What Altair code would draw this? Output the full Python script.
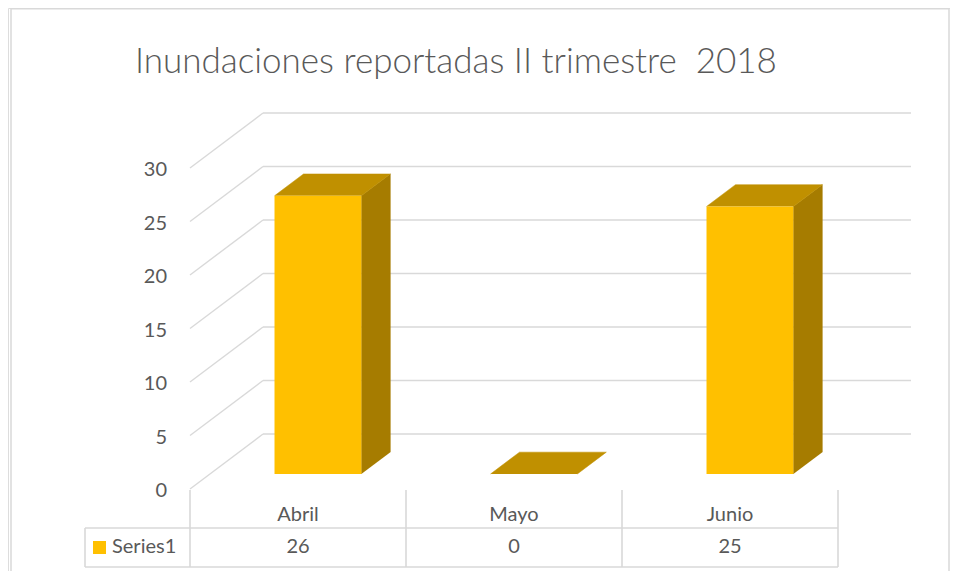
import altair as alt
import pandas as pd

# ---------------- data ----------------
months = ["Abril", "Mayo", "Junio"]
values = [26, 0, 25]
series_name = "Series1"
tick_values = [0, 5, 10, 15, 20, 25, 30]
title_text = "Inundaciones reportadas II trimestre \u00a02018"

# ---------------- geometry / style ----------------
W, H = 942, 563
PX_PER_CAT = 216.0      # pixels per category on the front plane
PX_PER_VAL = 10.7       # pixels per value unit
X0_PAGE, Y0_PAGE = 190.0, 489.0   # page pixel of (category 0, value 0, front)
DEPTH_X = 73 / PX_PER_CAT          # category units for full depth
DEPTH_Y = 55 / PX_PER_VAL          # value units for full depth
BAR_D0, BAR_D1 = 0.273, 0.67       # bar depth span (fraction of full depth)
BAR_HALF = 0.201                   # half bar width in category units

FRONT = "#FFC000"
TOP = "#C09000"
SIDE = "#A67C00"
GRID = "#D9D9D9"
TEXT = "#595959"
FONT = "Lato"

def page_to_u(px):
    return (px - X0_PAGE) / PX_PER_CAT

def page_to_v(py):
    return (Y0_PAGE - py) / PX_PER_VAL

xs = alt.Scale(domain=[page_to_u(8), page_to_u(8 + W)], nice=False, zero=False)
ys = alt.Scale(domain=[page_to_v(8 + H), page_to_v(8)], nice=False, zero=False)

def X(f):
    return alt.X(f, type="quantitative", scale=xs, axis=None)

def Y(f):
    return alt.Y(f, type="quantitative", scale=ys, axis=None)

# ---------------- gridlines (side wall diagonals + back wall) ----------------
diag = pd.DataFrame({
    "x": [0.0] * len(tick_values),
    "y": tick_values,
    "x2": [DEPTH_X] * len(tick_values),
    "y2": [t + DEPTH_Y for t in tick_values],
})
back = pd.DataFrame({
    "x": [DEPTH_X] * len(tick_values),
    "y": [t + DEPTH_Y for t in tick_values],
    "x2": [len(months) + DEPTH_X] * len(tick_values),
    "y2": [t + DEPTH_Y for t in tick_values],
})
grid_df = pd.concat([diag, back], ignore_index=True)
grid = alt.Chart(grid_df).mark_rule(color=GRID, strokeWidth=1.4).encode(
    x=X("x"), y=Y("y"), x2="x2", y2="y2")

# value-axis labels on the front plane
tick_df = pd.DataFrame({"y": tick_values, "label": [str(t) for t in tick_values],
                        "x": [page_to_u(167)] * len(tick_values)})
ticks = alt.Chart(tick_df).mark_text(font=FONT, fontSize=20, color=TEXT, align="right",
                                     dy=2).encode(x=X("x"), y=Y("y"), text="label:N")

# ---------------- bars (front rect + top / side polygons) ----------------
dx = (BAR_D1 - BAR_D0) * DEPTH_X
dyv = (BAR_D1 - BAR_D0) * DEPTH_Y
front_rows = []
poly_layers = []

def polygon(points, color):
    df = pd.DataFrame({"x": [p[0] for p in points], "y": [p[1] for p in points],
                       "k": list(range(len(points)))})
    return alt.Chart(df).mark_line(filled=True, color=color, strokeWidth=0.5,
                                   stroke=color).encode(x=X("x"), y=Y("y"), order="k:Q")

for i, (m, v) in enumerate(zip(months, values)):
    xl = i + 0.5 - BAR_HALF + BAR_D0 * DEPTH_X
    xr = i + 0.5 + BAR_HALF + BAR_D0 * DEPTH_X
    yb = BAR_D0 * DEPTH_Y
    yt = v + yb
    front_rows.append({"m": m, "x": xl, "x2": xr, "y": yb, "y2": yt})
    if v > 0:
        poly_layers.append(polygon(
            [(xr, yb), (xr, yt), (xr + dx, yt + dyv), (xr + dx, yb + dyv)], SIDE))
    poly_layers.append(polygon(
        [(xl, yt), (xl + dx, yt + dyv), (xr + dx, yt + dyv), (xr, yt)], TOP))

front = alt.Chart(pd.DataFrame(front_rows)).mark_rect(color=FRONT).encode(
    x=X("x"), x2="x2", y=Y("y"), y2="y2")

# ---------------- data table ----------------
ROW_TOP, ROW_MID, ROW_BOT = 490, 528, 567
TABLE_LEFT = 85
vlines = pd.DataFrame({
    "x": [float(i) for i in range(len(months) + 1)] + [page_to_u(TABLE_LEFT)],
    "y": [page_to_v(ROW_TOP)] * (len(months) + 1) + [page_to_v(ROW_MID)],
    "y2": [page_to_v(ROW_BOT)] * (len(months) + 2),
})
hlines = pd.DataFrame({
    "x": [page_to_u(TABLE_LEFT)] * 2,
    "x2": [float(len(months))] * 2,
    "y": [page_to_v(ROW_MID), page_to_v(ROW_BOT)],
})
tab_v = alt.Chart(vlines).mark_rule(color=GRID, strokeWidth=1.6).encode(
    x=X("x"), y=Y("y"), y2="y2")
tab_h = alt.Chart(hlines).mark_rule(color=GRID, strokeWidth=1.6).encode(
    x=X("x"), x2="x2", y=Y("y"))

cat_df = pd.DataFrame({"x": [i + 0.5 for i in range(len(months))], "label": months,
                       "y": [page_to_v(515)] * len(months)})
val_df = pd.DataFrame({"x": [i + 0.5 for i in range(len(months))],
                       "label": [str(v) for v in values],
                       "y": [page_to_v(547)] * len(months)})
cat_text = alt.Chart(cat_df).mark_text(font=FONT, fontSize=20, color=TEXT).encode(
    x=X("x"), y=Y("y"), text="label:N")
val_text = alt.Chart(val_df).mark_text(font=FONT, fontSize=20, color=TEXT).encode(
    x=X("x"), y=Y("y"), text="label:N")

legend_df = pd.DataFrame({"x": [page_to_u(112)], "y": [page_to_v(547)], "label": [series_name],
                          "sx": [page_to_u(93)], "sx2": [page_to_u(106)],
                          "sy": [page_to_v(541)], "sy2": [page_to_v(554)]})
leg_text = alt.Chart(legend_df).mark_text(font=FONT, fontSize=20, color=TEXT, align="left").encode(
    x=X("x"), y=Y("y"), text="label:N")
leg_sw = alt.Chart(legend_df).mark_rect(color=FRONT).encode(
    x=X("sx"), x2="sx2", y=Y("sy"), y2="sy2")

# ---------------- title & border ----------------
title = alt.Chart(pd.DataFrame({"t": [title_text]})).mark_text(
    font=FONT, fontSize=35, fontWeight=300, color=TEXT, align="left", baseline="alphabetic"
).encode(x=alt.value(127), y=alt.value(65), text="t:N")

border_top = alt.Chart(pd.DataFrame({"a": [0]})).mark_rule(color=GRID, strokeWidth=1.5).encode(
    x=alt.value(3), x2=alt.value(W - 1), y=alt.value(0.75))
border_left = alt.Chart(pd.DataFrame({"a": [0]})).mark_rule(color=GRID, strokeWidth=1.5).encode(
    x=alt.value(3), y=alt.value(0), y2=alt.value(H))
border_right = alt.Chart(pd.DataFrame({"a": [0]})).mark_rule(color=GRID, strokeWidth=1.5).encode(
    x=alt.value(W - 1), y=alt.value(0), y2=alt.value(H))

chart = alt.layer(
    grid, ticks, *poly_layers, front, tab_v, tab_h, cat_text, val_text, leg_sw, leg_text,
    title, border_top, border_left, border_right
).properties(
    width=W, height=H, autosize=alt.AutoSizeParams(type="none"), padding=0
).configure_view(stroke=None).configure(background="white")

chart.save("out.html", embed_options={"renderer": "svg", "actions": False})
